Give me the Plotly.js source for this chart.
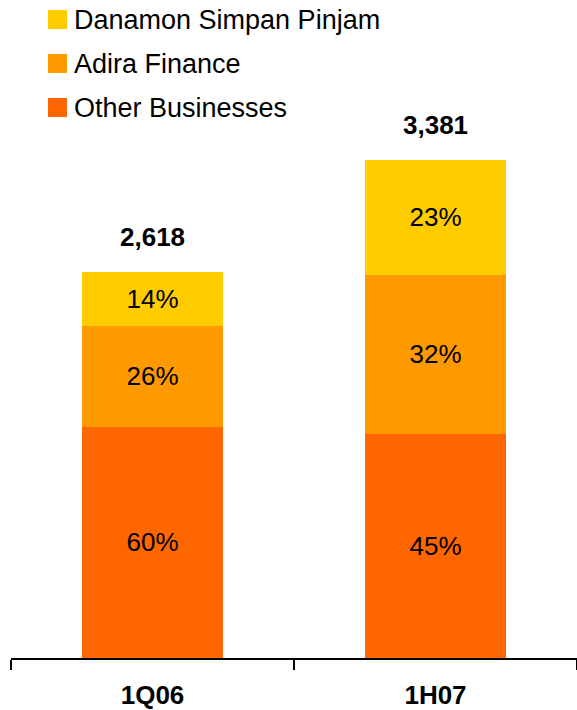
<!DOCTYPE html>
<html>
<head>
<meta charset="utf-8">
<script src="https://cdn.plot.ly/plotly-3.0.1.min.js"></script>
<style>html,body{margin:0;padding:0;background:#fff;}#chart{width:577px;height:710px;}</style>
</head>
<body>
<div id="chart"></div>
<script>
// ---- data ----
var categories = ["1Q06", "1H07"];
var otherBusinesses = [1571, 1521];
var adiraFinance = [681, 1082];
var danamonSimpanPinjam = [366, 778];
var otherPct = ["60%", "45%"];
var adiraPct = ["26%", "32%"];
var dspPct = ["14%", "23%"];
var totals = [2618, 3381];
var totalLabels = ["2,618", "3,381"];
var seriesNames = ["Danamon Simpan Pinjam", "Adira Finance", "Other Businesses"];

// ---- style ----
var FONT = "Liberation Sans, Arial, Helvetica, sans-serif";
var colors = {dsp: "#FFCC00", adira: "#FF9900", other: "#FF6600"};
var W = 577, H = 710, ML = 11, MR = 0, MT = 100, MB = 52;
var PW = W - ML - MR, PH = H - MT - MB;
function xp(px) { return (px - ML) / PW; }
function yp(py) { return (H - MB - py) / PH; }

function barTrace(name, y, txt, color) {
  return {
    type: "bar", name: name, x: categories, y: y, text: txt,
    textposition: "inside", insidetextanchor: "middle", textangle: 0,
    insidetextfont: {family: FONT, size: 26, color: "#000"},
    marker: {color: color, line: {width: 0}},
    width: 0.5, hoverinfo: "skip", showlegend: false, cliponaxis: false
  };
}

var data = [
  barTrace(seriesNames[2], otherBusinesses, otherPct, colors.other),
  barTrace(seriesNames[1], adiraFinance, adiraPct, colors.adira),
  barTrace(seriesNames[0], danamonSimpanPinjam, dspPct, colors.dsp)
];

var annotations = [];
for (var i = 0; i < categories.length; i++) {
  annotations.push({
    x: categories[i], y: totals[i], xref: "x", yref: "y",
    text: totalLabels[i], showarrow: false, yanchor: "bottom", yshift: 18,
    font: {family: FONT, size: 26, color: "#000", weight: "bold"}
  });
}
// legend (manual, to match large square swatches)
var legendColors = [colors.dsp, colors.adira, colors.other];
var shapes = [];
for (var k = 0; k < seriesNames.length; k++) {
  var cy = 19.5 + 44 * k;
  shapes.push({
    type: "rect", xref: "paper", yref: "paper",
    x0: xp(48), x1: xp(67), y0: yp(cy + 9.5), y1: yp(cy - 9.5),
    fillcolor: legendColors[k], line: {width: 0}
  });
  annotations.push({
    xref: "paper", yref: "paper", x: xp(72), y: yp(cy + 0.5),
    xanchor: "left", yanchor: "middle", showarrow: false,
    text: seriesNames[k], font: {family: FONT, size: 27, color: "#000"}
  });
}

var layout = {
  width: W, height: H,
  margin: {l: ML, r: MR, t: MT, b: MB, pad: 0},
  paper_bgcolor: "#fff", plot_bgcolor: "#fff",
  barmode: "stack", showlegend: false,
  xaxis: {
    type: "category", range: [-0.5, 1.5], showgrid: false, zeroline: false,
    showline: true, linecolor: "#000", linewidth: 2,
    ticks: "outside", tickson: "boundaries", ticklen: 10, tickwidth: 2, tickcolor: "#000",
    ticklabelstandoff: 13,
    tickfont: {family: FONT, size: 26, color: "#000", weight: "bold"},
    fixedrange: true
  },
  yaxis: {range: [0, 3788], visible: false, showgrid: false, zeroline: false, fixedrange: true},
  annotations: annotations, shapes: shapes,
  uniformtext: {mode: false}
};

Plotly.newPlot("chart", data, layout, {displayModeBar: false, staticPlot: true});
</script>
</body>
</html>
